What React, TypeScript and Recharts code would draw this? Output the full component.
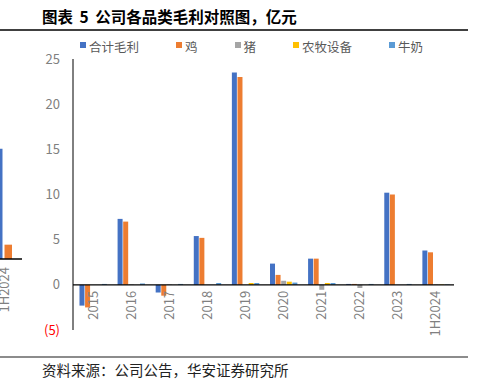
import { ComposedChart, BarChart, Bar, Line, XAxis, YAxis, ReferenceLine, LabelList } from 'recharts'

const FONT = '"Noto Sans CJK SC", "Noto Sans", sans-serif'

const categories = ['2015', '2016', '2017', '2018', '2019', '2020', '2021', '2022', '2023', '1H2024']
const totalProfit = [-2.3, 7.3, -0.85, 5.4, 23.5, 2.35, 2.9, 0.1, 10.2, 3.8]
const chicken = [-2.5, 7.0, -1.2, 5.2, 23.0, 1.1, 2.9, 0.1, 10.0, 3.6]
const pig = [0, 0.05, 0.05, 0, 0, 0.45, -0.55, -0.35, 0, 0.05]
const equipment = [0, 0, 0, 0, 0.2, 0.35, 0.2, 0, 0, 0.05]
const milk = [0.1, 0.15, 0.1, 0.2, 0.2, 0.25, 0.2, 0.1, 0.1, 0.05]

const seriesNames = ['合计毛利', '鸡', '猪', '农牧设备', '牛奶']
const seriesColors = ['#4472C4', '#ED7D31', '#A5A5A5', '#FFC000', '#5B9BD5']
const yTicks = [-5, 0, 5, 10, 15, 20, 25]

// neighbouring chart that is cut off at the left edge
const sideCategories = ['1H2024']
const sideTotal = [15]
const sideChicken = [1.95]

const data = categories.map((cat, i) => ({
  cat,
  s0: totalProfit[i],
  s1: chicken[i],
  s2: pig[i],
  s3: equipment[i],
  s4: milk[i],
  zero: 0,
}))

const sideData = sideCategories.map((cat, i) => ({ cat, total: sideTotal[i], chicken: sideChicken[i] }))

const YTick = ({ x, y, payload }: any) => {
  const v = payload.value
  const neg = v < 0
  return (
    <text x={x} y={y} dy="0.35em" textAnchor="end" fill={neg ? '#FF0000' : '#808080'} fontSize={13} fontFamily={FONT}>
      {neg ? `(${Math.abs(v)})` : v}
    </text>
  )
}

const RotatedLabel = ({ x, y, value, offset = 0 }: any) => {
  const ty = y + offset
  return (
    <text
      x={x}
      y={ty}
      transform={`rotate(-90 ${x} ${ty})`}
      textAnchor="end"
      dominantBaseline="central"
      fill="#808080"
      fontSize={13}
      fontFamily={FONT}
    >
      {value}
    </text>
  )
}

const SideTick = ({ x, y, payload }: any) => <RotatedLabel x={x} y={y} value={payload.value} />

export default function App() {
  return (
    <div style={{ position: 'absolute', left: 0, top: 0, width: 481, height: 387, background: '#fff', overflow: 'hidden', fontFamily: FONT }}>
      <div style={{ position: 'absolute', left: 42, top: 7, fontSize: 15.5, lineHeight: '18px', fontWeight: 700, color: '#000', wordSpacing: 3, whiteSpace: 'nowrap' }}>
        图表 5 公司各品类毛利对照图，亿元
      </div>
      <div style={{ position: 'absolute', left: 0, top: 29, width: 468, height: 1.5, background: '#404040' }} />

      <div style={{ position: 'absolute', left: -16, top: 112 }}>
        <BarChart width={40} height={240} data={sideData} margin={{ top: 0, right: 2, left: 0, bottom: 0 }} barSize={7.5} barGap={2}>
          <XAxis dataKey="cat" axisLine={{ stroke: '#000', strokeWidth: 1.3 }} tickLine={false} height={93} interval={0} tick={<SideTick />} />
          <YAxis hide domain={[0, 20]} />
          <Bar dataKey="total" fill={seriesColors[0]} isAnimationActive={false} />
          <Bar dataKey="chicken" fill={seriesColors[1]} isAnimationActive={false} />
        </BarChart>
      </div>

      <div style={{ position: 'absolute', left: 0, top: 0 }}>
        <ComposedChart width={481} height={387} data={data} margin={{ top: 59, right: 27, bottom: 57, left: 0 }} barCategoryGap="17%" barGap={0.6}>
          <XAxis dataKey="cat" hide />
          <YAxis
            domain={[-5, 25]}
            ticks={yTicks}
            interval={0}
            width={73}
            axisLine={{ stroke: '#000' }}
            tickLine={false}
            tickMargin={7}
            tick={<YTick />}
            allowDataOverflow
          />
          {seriesNames.map((name, i) => (
            <Bar key={name} dataKey={`s${i}`} name={name} fill={seriesColors[i]} isAnimationActive={false} />
          ))}
          <ReferenceLine y={0} stroke="#000" strokeWidth={1.3} />
          <Line dataKey="zero" stroke="none" dot={false} activeDot={false} legendType="none" isAnimationActive={false}>
            <LabelList dataKey="cat" content={(p: any) => <RotatedLabel {...p} offset={6} />} />
          </Line>
        </ComposedChart>
      </div>

      <div style={{ position: 'absolute', left: 80, top: 38, display: 'flex', alignItems: 'center', whiteSpace: 'nowrap' }}>
        {seriesNames.map((name, i) => (
          <div key={name} style={{ display: 'flex', alignItems: 'center', marginRight: 37 }}>
            <span style={{ width: 6, height: 6, background: seriesColors[i], marginRight: 3, marginTop: -3 }} />
            <span style={{ fontSize: 12.5, lineHeight: '17px', color: '#595959' }}>{name}</span>
          </div>
        ))}
      </div>

      <div style={{ position: 'absolute', left: 0, top: 356, width: 468, height: 1.5, background: '#8c8c8c' }} />
      <div style={{ position: 'absolute', left: 42, top: 362, fontSize: 14.5, lineHeight: '16px', color: '#222', whiteSpace: 'nowrap' }}>
        资料来源：公司公告，华安证券研究所
      </div>
    </div>
  )
}
